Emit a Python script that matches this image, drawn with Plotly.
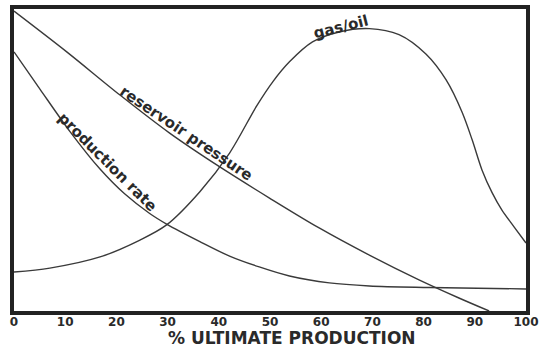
import plotly.graph_objects as go

# % ultimate production (x) and relative values (y, 0-100 of plot height)
reservoir_x = [0, 10.3, 20.7, 30.4, 40.2, 49.9, 59.6, 69.4, 79.1, 86.9, 92.8]
reservoir_y = [99.3, 85.8, 71.5, 58.9, 47.7, 37.4, 27.5, 18.5, 10.3, 4.3, 0]

prodrate_x = [0, 5.1, 10.9, 16.8, 21.6, 26.5, 29.8, 36.3, 42.1, 47.9, 53.8, 61.6, 69.4, 81.1, 100]
prodrate_y = [85.8, 73.4, 59.5, 47.0, 38.8, 32.3, 28.8, 23.0, 18.2, 14.6, 11.6, 9.3, 8.3, 7.8, 7.3]

gasoil_x = [0, 7.0, 16.8, 24.6, 29.8, 36.3, 42.1, 47.4, 50.5, 53.8, 58.3, 63.5, 69.4, 75.2,
            80.5, 84.4, 87.5, 89.5, 91.4, 93.4, 95.3, 97.7, 100]
gasoil_y = [12.9, 14.2, 17.9, 23.5, 28.5, 39.5, 52.3, 67.9, 75.8, 82.5, 89.1, 92.4, 93.5, 91.5,
            85.0, 76.5, 65.9, 56.6, 46.7, 39.1, 33.4, 27.8, 22.5]

tick_vals = [0, 10, 20, 30, 40, 50, 60, 70, 80, 90, 100]
tick_text = ["0", "10", "20", "30", "40", "50", "60", "70", "80", "90", "100"]

line_color = "#3a3a3a"
text_color = "#2a2a2a"
font_family = "DejaVu Sans"

fig = go.Figure()
for xs, ys, name in [(reservoir_x, reservoir_y, "reservoir pressure"),
                     (prodrate_x, prodrate_y, "production rate"),
                     (gasoil_x, gasoil_y, "gas/oil")]:
    fig.add_trace(go.Scatter(x=xs, y=ys, mode="lines", name=name,
                             line=dict(color=line_color, width=1.4, shape="spline", smoothing=0.9),
                             showlegend=False, cliponaxis=True))

label_font = dict(family=font_family, size=15, color=text_color, weight="bold")
fig.add_annotation(x=33.5, y=58.8, text="reservoir pressure", showarrow=False,
                   textangle=34, font=label_font)
fig.add_annotation(x=18.3, y=49.5, text="production rate", showarrow=False,
                   textangle=45, font=label_font)
fig.add_annotation(x=63.8, y=94.0, text="gas/oil", showarrow=False,
                   textangle=-14, font=label_font)

fig.add_annotation(x=0.543, y=-0.0894, xref="paper", yref="paper", yanchor="middle",
                   text="% ULTIMATE PRODUCTION", showarrow=False,
                   font=dict(family=font_family, size=17, color=text_color, weight="bold"))

fig.update_xaxes(range=[0, 100], tickvals=tick_vals, ticktext=tick_text,
                 showgrid=False, zeroline=False, ticks="", automargin=False,
                 ticklabelstandoff=-3,
                 showline=True, linewidth=4, linecolor="#222222", mirror=True,
                 tickfont=dict(family=font_family, size=12, color=text_color, weight="bold"))
fig.update_yaxes(range=[0, 100], showticklabels=False, showgrid=False, zeroline=False,
                 ticks="", automargin=False,
                 showline=True, linewidth=4, linecolor="#222222", mirror=True)

fig.update_layout(width=539, height=351, margin=dict(l=14, r=13, t=9, b=40),
                  plot_bgcolor="white", paper_bgcolor="white")

fig.write_html("out.html", config={"displayModeBar": False},
               post_script="document.body.style.margin='0';")
